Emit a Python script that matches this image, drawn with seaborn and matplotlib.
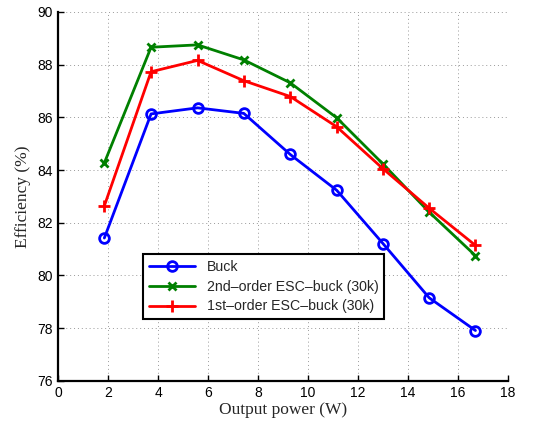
import matplotlib
matplotlib.use("Agg")
import matplotlib.pyplot as plt
import seaborn as sns

# Output power (W)
power = [1.85, 3.72, 5.58, 7.43, 9.29, 11.15, 13.0, 14.85, 16.7]

# Efficiency (%)
eff_buck = [81.42, 86.13, 86.36, 86.15, 84.59, 83.23, 81.21, 79.15, 77.91]
eff_2nd = [84.27, 88.66, 88.75, 88.18, 87.31, 85.98, 84.23, 82.40, 80.75]
eff_1st = [82.64, 87.73, 88.16, 87.39, 86.79, 85.64, 84.05, 82.55, 81.14]

labels = ["Buck", "2nd\u2013order ESC\u2013buck (30k)", "1st\u2013order ESC\u2013buck (30k)"]
colors = ["#0000ff", "#008000", "#ff0000"]
markers = ["o", "x", "+"]
msizes = [7, 6, 8]

sns.set_style("ticks")
plt.rcParams["font.family"] = ["Liberation Sans", "DejaVu Sans"]

fig = plt.figure(figsize=(5.33, 4.26), dpi=100)
ax = fig.add_axes([0.109, 0.106, 0.844, 0.866])

for y, lab, c, m, ms in zip([eff_buck, eff_2nd, eff_1st], labels, colors, markers, msizes):
    sns.lineplot(x=power, y=y, ax=ax, color=c, marker=m, markersize=ms,
                 mec=c, mew=2, mfc="none", linewidth=2, label=lab)

ax.set_xlim(0, 18)
ax.set_ylim(76, 90)
ax.set_xticks(range(0, 19, 2))
ax.set_yticks(range(76, 91, 2))
ax.tick_params(direction="in", length=4, width=1, labelsize=10, colors="black")
ax.grid(True, linestyle=(0, (1, 3)), color="#999999", linewidth=0.7)
for side in ["top", "right"]:
    ax.spines[side].set_visible(False)
for side in ["left", "bottom"]:
    ax.spines[side].set_linewidth(1.6)
    ax.spines[side].set_color("black")

ax.set_xlabel("Output power (W)", family="Liberation Serif", fontsize=12.5, labelpad=2)
ax.set_ylabel("Efficiency (%)", family="Liberation Serif", fontsize=12.5, labelpad=5)

leg = ax.legend(loc="lower left", bbox_to_anchor=(0.173, 0.148), fontsize=10.2,
                frameon=True, fancybox=False, edgecolor="black", framealpha=1,
                handlelength=3.3, borderpad=0.4, labelspacing=0.4)
leg.get_frame().set_linewidth(1.5)

fig.savefig("out.png", dpi=100)
